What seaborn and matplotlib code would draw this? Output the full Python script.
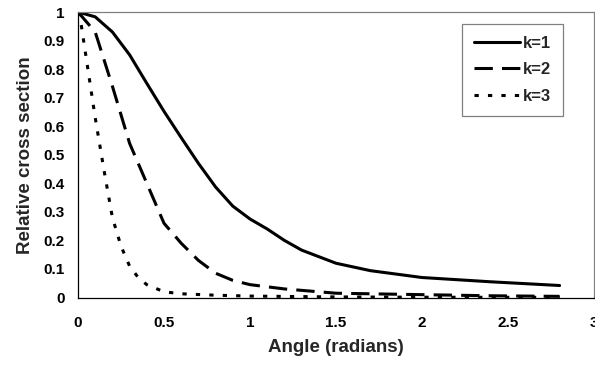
import pandas as pd
import matplotlib
matplotlib.use('Agg')
import matplotlib.pyplot as plt
import seaborn as sns
import numpy as np

# values
x_k1 = [0, 0.1, 0.2, 0.3, 0.4, 0.5, 0.6, 0.7, 0.8, 0.9, 1.0, 1.1, 1.2, 1.3, 1.5, 1.7, 2.0, 2.4, 2.8]
y_k1 = [1.0, 0.983, 0.93, 0.85, 0.75, 0.652, 0.56, 0.47, 0.387, 0.32, 0.275, 0.24, 0.2, 0.166, 0.12, 0.094, 0.07, 0.055, 0.042]

x_k2 = [0, 0.1, 0.2, 0.3, 0.4, 0.5, 0.6, 0.7, 0.8, 0.9, 1.0, 1.2, 1.5, 2.0, 2.4, 2.8]
y_k2 = [1.0, 0.93, 0.74, 0.54, 0.40, 0.26, 0.19, 0.13, 0.085, 0.06, 0.045, 0.03, 0.015, 0.01, 0.006, 0.004]

x_k3 = [0, 0.02, 0.05, 0.1, 0.15, 0.2, 0.25, 0.3, 0.35, 0.4, 0.5, 0.6, 0.8, 1.0, 1.5, 2.0, 2.8]
y_k3 = [1.0, 0.95, 0.83, 0.63, 0.45, 0.28, 0.18, 0.11, 0.07, 0.045, 0.02, 0.013, 0.008, 0.005, 0.002, 0.001, 0.0005]

labels = ['k=1', 'k=2', 'k=3']

df = pd.concat([
    pd.DataFrame({'angle': x_k1, 'cs': y_k1, 'k': labels[0]}),
    pd.DataFrame({'angle': x_k2, 'cs': y_k2, 'k': labels[1]}),
    pd.DataFrame({'angle': x_k3, 'cs': y_k3, 'k': labels[2]}),
])

sns.set_style('white')
plt.rcParams['font.family'] = ['Liberation Sans', 'DejaVu Sans']
plt.rcParams['font.weight'] = 'bold'

fig = plt.figure(figsize=(5.95, 3.72), dpi=100)
ax = fig.add_axes([78/595, 74.5/372, 516/595, 285.5/372])

sns.lineplot(data=df, x='angle', y='cs', style='k', color='black', linewidth=2.2,
             dashes={'k=1': '', 'k=2': (6, 3), 'k=3': (1.4, 3)},
             sort=False, estimator=None, ax=ax, legend=True)

ax.set_xlim(0, 3)
ax.set_ylim(0, 1)
ax.set_xticks(np.arange(0, 3.01, 0.5))
ax.set_xticklabels(['0', '0.5', '1', '1.5', '2', '2.5', '3'])
ax.set_yticks(np.arange(0, 1.01, 0.1))
ax.set_yticklabels(['0', '0.1', '0.2', '0.3', '0.4', '0.5', '0.6', '0.7', '0.8', '0.9', '1'])

ax.tick_params(axis='both', direction='out', length=4, width=0.8, color='black',
               labelsize=11, labelcolor='black')
ax.tick_params(axis='x', pad=9)
ax.tick_params(axis='y', pad=5.5)
for t in ax.get_xticklabels() + ax.get_yticklabels():
    t.set_fontweight('bold')

ax.set_xlabel('Angle (radians)', fontsize=13.5, fontweight='bold', labelpad=7)
ax.set_ylabel('Relative cross section', fontsize=13.5, fontweight='bold', labelpad=7)

for s in ['left', 'bottom']:
    ax.spines[s].set_color('black')
    ax.spines[s].set_linewidth(0.9)
for s in ['top', 'right']:
    ax.spines[s].set_color('#808080')
    ax.spines[s].set_linewidth(0.9)

handles, lbls = ax.get_legend_handles_labels()
leg = ax.legend(handles, lbls, loc='upper right', bbox_to_anchor=(562.7/595, 1 - 24/372),
                bbox_transform=fig.transFigure, borderaxespad=0, fancybox=False,
                framealpha=1, edgecolor='#808080', handlelength=2.8,
                handletextpad=0.15, labelspacing=0.7, borderpad=0.7,
                prop={'weight': 'bold', 'size': 12})
leg.get_frame().set_linewidth(0.9)

plt.savefig('out.png', dpi=100)
plt.close()
